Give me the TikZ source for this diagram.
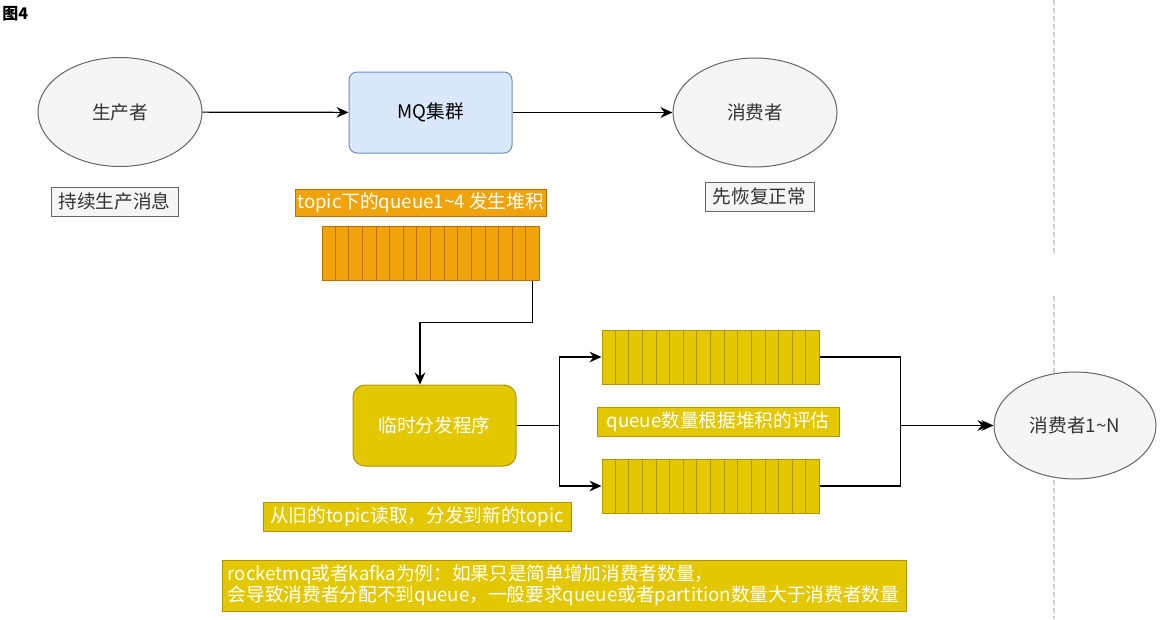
\documentclass[tikz,border=0pt]{standalone}
\usepackage{fontspec}
\setmainfont{Noto Sans CJK SC}
\usetikzlibrary{arrows.meta,calc,shapes.geometric}
\definecolor{ellfill}{HTML}{F5F5F5}
\definecolor{ellline}{HTML}{666666}
\definecolor{darktext}{HTML}{333333}
\definecolor{mqfill}{HTML}{DAE8FC}
\definecolor{mqline}{HTML}{6C8EBF}
\definecolor{orfill}{HTML}{F0A30A}
\definecolor{orline}{HTML}{BD7000}
\definecolor{yefill}{HTML}{E3C800}
\definecolor{yeline}{HTML}{B09500}
\definecolor{sepline}{HTML}{D0D0D0}
\begin{document}
\begin{tikzpicture}[x=0.75pt,y=-0.75pt,
  txt/.style={font=\fontsize{14}{17}\selectfont},
  ell/.style={ellipse, draw=ellline, fill=ellfill, line width=0.75pt, text=darktext, txt, inner sep=0pt},
  graylbl/.style={rectangle, draw=ellline, fill=ellfill, line width=0.75pt, text=darktext, txt, inner sep=0pt, minimum height=21.75pt},
  orlbl/.style={rectangle, draw=orline, fill=orfill, line width=0.75pt, text=white, txt, inner sep=0pt, minimum height=20.25pt},
  yelbl/.style={rectangle, draw=yeline, fill=yefill, line width=0.75pt, text=white, txt, inner sep=0pt, minimum height=21.75pt},
  queuebox/.style={rectangle, line width=0.75pt, minimum width=162.75pt, minimum height=40.5pt, inner sep=0pt},
  conn/.style={line width=0.9pt, draw=black, -{Stealth[length=9pt,width=8pt,inset=3pt]}},
]
\useasboundingbox (0,0) rectangle (1165,619);

% separator
\draw[sepline, line width=1pt, dash pattern=on 3.75pt off 2.25pt] (1054,0) -- (1054,253);
\draw[sepline, line width=1pt, dash pattern=on 3.75pt off 2.25pt] (1054,296) -- (1054,619);

% title
\node[anchor=west, font=\fontsize{12}{14}\selectfont\bfseries, inner sep=0pt] (title) at (2,14) {图4};

% top row
\node[ell, minimum width=123pt, minimum height=81.75pt] (prod) at (120,112) {生产者};
\node[rectangle, rounded corners=6pt, draw=mqline, fill=mqfill, line width=0.75pt, txt, inner sep=0pt,
      minimum width=122.25pt, minimum height=60.75pt] (mq) at (430.5,112.5) {MQ集群};
\node[ell, minimum width=123pt, minimum height=81.75pt] (cons) at (755,112.5) {消费者};

\draw[conn] (prod) -- (mq);
\draw[conn] (mq) -- (cons);

\node[graylbl, minimum width=95.25pt] (l1) at (114.5,201.5) {持续生产消息};
\node[graylbl, minimum width=81.75pt] (l2) at (759.5,196.5) {先恢复正常};
\node[orlbl, minimum width=188.25pt] (l3) at (420.5,202.5) {topic下的queue1\textasciitilde 4 发生堆积};

% orange queue
\node[queuebox, draw=orline, fill=orfill] (q1) at (430.5,253) {};
\foreach \i in {1,...,15}
  \draw[orline, line width=0.75pt] ($(q1.north west)!\i/16!(q1.north east)$) -- ($(q1.south west)!\i/16!(q1.south east)$);

% dispatcher
\node[rectangle, rounded corners=9pt, draw=yeline, fill=yefill, line width=0.75pt, text=white, txt, inner sep=0pt,
      minimum width=122.25pt, minimum height=60.75pt] (disp) at (434.5,425.5) {临时分发程序};

\coordinate (q1out) at ($(q1.south east)+(-7,0)$);
\coordinate (dispin) at ($(disp.north)+(-14.5,0)$);
\draw[conn] (q1out) -- ++(0,42) -| (dispin);

% new queues
\node[queuebox, draw=yeline, fill=yefill] (q2) at (710.5,357) {};
\node[queuebox, draw=yeline, fill=yefill] (q3) at (710.5,486) {};
\foreach \q in {q2,q3}
  \foreach \i in {1,...,15}
    \draw[yeline, line width=0.75pt] ($(\q.north west)!\i/16!(\q.north east)$) -- ($(\q.south west)!\i/16!(\q.south east)$);

\draw[conn] (disp.east) -- ++(43,0) |- (q2.west);
\draw[conn] (disp.east) -- ++(43,0) |- (q3.west);

\node[yelbl, minimum width=181.5pt] (l4) at (718,421.5) {queue数量根据堆积的评估};

% consumers 1..N
\node[ell, minimum width=121.5pt, minimum height=80.25pt] (c1n) at (1075,425.5) {消费者1\textasciitilde N};
\draw[conn] (q2.east) -- ++(81,0) |- (c1n.west);
\draw[conn, shorten >=3pt] (q3.east) -- ++(81,0) |- (c1n.west);

\node[yelbl, minimum width=231pt] (l5) at (417,516.5) {从旧的topic读取，分发到新的topic};

\node[rectangle, draw=yeline, fill=yefill, line width=0.75pt, text=white, inner sep=0pt,
      minimum width=513pt, minimum height=38.25pt] (note) at (564,585.5) {};
\node[anchor=west, text=white, align=left, inner sep=0pt, font=\fontsize{14}{15}\selectfont] (notetext) at ($(note.west)+(6,0)$)
  {rocketmq或者kafka为例：如果只是简单增加消费者数量，\\会导致消费者分配不到queue，一般要求queue或者partition数量大于消费者数量};
\end{tikzpicture}
\end{document}
